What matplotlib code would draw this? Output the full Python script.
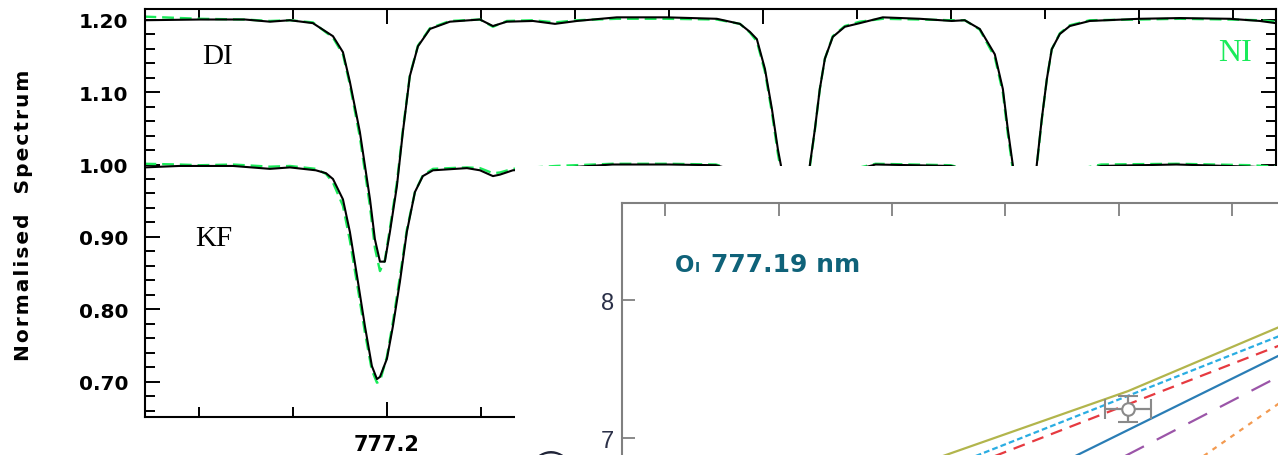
import matplotlib
matplotlib.use("Agg")
import matplotlib.pyplot as plt
from matplotlib.ticker import MultipleLocator

# ---- spectrum data (wavelength in nm, normalised flux) ----
di_wave = [777.0710, 777.1005, 777.1245, 777.1378, 777.1484, 777.1606, 777.1713, 777.1766,
           777.1803, 777.1856, 777.1910, 777.1936, 777.1963, 777.1989, 777.2016, 777.2053,
           777.2085, 777.2122, 777.2165, 777.2229, 777.2335, 777.2495, 777.2564, 777.2638,
           777.2777, 777.2894, 777.3011, 777.3223, 777.3489, 777.3755, 777.3878, 777.3931,
           777.3968, 777.4011, 777.4048, 777.4080, 777.4096, 777.4117, 777.4170, 777.4229,
           777.4250, 777.4277, 777.4303, 777.4330, 777.4372, 777.4436, 777.4516, 777.4638,
           777.4835, 777.5005, 777.5074, 777.5154, 777.5234, 777.5277, 777.5303, 777.5330,
           777.5351, 777.5394, 777.5436, 777.5457, 777.5484, 777.5511, 777.5537, 777.5580,
           777.5633, 777.5739, 777.6005, 777.6218, 777.6484, 777.6644, 777.6729]
di_obs = [0.999, 1.000, 1.000, 0.997, 0.999, 0.995, 0.977, 0.955,
          0.914, 0.845, 0.752, 0.697, 0.666, 0.666, 0.707, 0.770,
          0.845, 0.922, 0.963, 0.987, 0.997, 1.000, 0.991, 0.997,
          0.998, 0.994, 0.998, 1.003, 1.003, 1.001, 0.994, 0.983,
          0.973, 0.932, 0.877, 0.821, 0.799, 0.739, 0.600, 0.739,
          0.799, 0.849, 0.904, 0.946, 0.976, 0.990, 0.995, 1.003,
          1.001, 0.998, 0.999, 0.987, 0.952, 0.904, 0.849, 0.799,
          0.739, 0.620, 0.739, 0.799, 0.863, 0.918, 0.959, 0.980,
          0.991, 0.998, 1.001, 1.002, 1.001, 0.998, 0.995]
di_model = [1.004, 1.001, 1.000, 0.998, 0.999, 0.996, 0.975, 0.952,
            0.910, 0.838, 0.742, 0.685, 0.653, 0.668, 0.712, 0.775,
            0.848, 0.923, 0.964, 0.988, 0.998, 1.000, 0.990, 0.998,
            0.999, 0.996, 0.999, 1.001, 1.001, 1.000, 0.994, 0.982,
            0.970, 0.928, 0.872, 0.815, 0.792, 0.730, 0.590, 0.735,
            0.797, 0.848, 0.904, 0.946, 0.977, 0.991, 0.997, 1.001,
            1.000, 0.999, 0.999, 0.986, 0.948, 0.899, 0.843, 0.793,
            0.732, 0.610, 0.736, 0.797, 0.862, 0.918, 0.959, 0.981,
            0.992, 0.999, 1.000, 1.001, 1.000, 0.999, 0.997]
di_offset = 0.20

kf_wave = [777.0710, 777.0896, 777.1005, 777.1181, 777.1378, 777.1484, 777.1622, 777.1676,
           777.1713, 777.1766, 777.1803, 777.1846, 777.1883, 777.1920, 777.1947, 777.1963,
           777.2000, 777.2032, 777.2069, 777.2106, 777.2149, 777.2191, 777.2245, 777.2426,
           777.2495, 777.2564, 777.2601, 777.2670, 777.2900, 777.3200, 777.3500, 777.3750,
           777.3880, 777.3970, 777.4050, 777.4170, 777.4290, 777.4370, 777.4450, 777.4600,
           777.5000, 777.5150, 777.5240, 777.5310, 777.5390, 777.5480, 777.5550, 777.5650,
           777.5800, 777.6200, 777.6600, 777.6730]
kf_obs = [0.996, 0.998, 0.998, 0.998, 0.994, 0.996, 0.992, 0.988,
          0.980, 0.952, 0.907, 0.838, 0.777, 0.722, 0.704, 0.707,
          0.732, 0.777, 0.838, 0.907, 0.962, 0.984, 0.992, 0.995,
          0.992, 0.984, 0.986, 0.992, 0.995, 1.000, 1.000, 0.999,
          0.990, 0.960, 0.850, 0.550, 0.850, 0.960, 0.990, 1.000,
          0.998, 0.990, 0.950, 0.850, 0.580, 0.850, 0.960, 0.990,
          0.998, 1.000, 0.997, 0.995]
kf_model = [1.001, 1.000, 0.999, 1.000, 0.997, 0.998, 0.994, 0.987,
            0.975, 0.943, 0.895, 0.828, 0.768, 0.716, 0.699, 0.701,
            0.735, 0.783, 0.845, 0.910, 0.962, 0.985, 0.994, 0.996,
            0.995, 0.988, 0.989, 0.994, 0.998, 1.001, 1.001, 1.000,
            0.990, 0.955, 0.840, 0.540, 0.848, 0.961, 0.992, 1.001,
            0.999, 0.988, 0.945, 0.842, 0.570, 0.848, 0.960, 0.992,
            1.000, 1.001, 0.999, 0.997]

y_ticks = [0.70, 0.80, 0.90, 1.00, 1.10, 1.20]
y_tick_labels = ["0.70", "0.80", "0.90", "1.00", "1.10", "1.20"]
x_ticks = [777.2, 777.4, 777.6]
x_tick_labels = ["777.2", "777.4", "777.6"]

# ---- inset (O I 777.19 nm panel) ----
inset_lines = {
    "olive":  ([3.0, 5.08, 6.6], [6.74, 7.34, 7.87]),
    "cyan":   ([3.0, 6.6], [6.63, 7.80]),
    "red":    ([3.0, 6.6], [6.58, 7.73]),
    "blue":   ([4.0, 6.6], [6.62, 7.675]),
    "purple": ([4.5, 6.6], [6.634, 7.527]),
    "orange": ([5.0, 6.6], [6.442, 7.36]),
}
obs_x, obs_y = [5.08], [7.21]
obs_xerr, obs_yerr = [0.20], [0.094]

green = "#1aeb5a"
W, H = 1278, 456
fig = plt.figure(figsize=(W / 100, H / 100), dpi=100)

# main spectrum panel
ax = fig.add_axes([145 / W, (H - 418) / H, (1276 - 145) / W, (418 - 10) / H])
ax.plot(di_wave, [v + di_offset for v in di_model], color=green, lw=1.7, dashes=(5, 2.5))
ax.plot(di_wave, [v + di_offset for v in di_obs], color="black", lw=1.5)
ax.plot(kf_wave, kf_model, color=green, lw=1.7, dashes=(5, 2.5))
ax.plot(kf_wave, kf_obs, color="black", lw=1.5)
ax.set_xlim(777.0713, 777.673)
ax.set_ylim(0.6517, 1.2145)
ax.set_yticks(y_ticks, y_tick_labels, fontweight="bold", fontsize=14.5)
ax.set_xticks(x_ticks, x_tick_labels, fontweight="bold", fontsize=15)
ax.yaxis.set_minor_locator(MultipleLocator(0.02))
ax.xaxis.set_minor_locator(MultipleLocator(0.05))
ax.tick_params(which="both", direction="in", top=True, right=True, width=1.4)
ax.tick_params(which="major", length=11)
ax.tick_params(which="minor", length=7)
ax.tick_params(axis="y", pad=12)
ax.tick_params(axis="x", pad=12)
for s in ax.spines.values():
    s.set_linewidth(1.5)
ax.text(777.1101, 1.149, "DI", family="Liberation Serif", fontsize=21, ha="center", va="center")
ax.text(777.1080, 0.899, "KF", family="Liberation Serif", fontsize=21, ha="center", va="center")
ax.text(777.6510, 1.1545, "NI", family="Liberation Serif", fontsize=23, color=green,
        ha="center", va="center")
hs = "\u200a"
ylab = hs.join("Normalised") + hs + " " + hs + " " + hs + hs.join("Spectrum")
fig.text(24 / W, 1 - 215 / H, ylab, rotation=90, ha="center", va="center",
         fontsize=14.5, fontweight="bold")

# white patch of the pasted panel
patch = fig.add_axes([515 / W, 0, (W - 515) / W, (H - 166.5) / H])
patch.set_facecolor("white")
patch.set_xticks([])
patch.set_yticks([])
for s in patch.spines.values():
    s.set_visible(False)

# inset panel
ins = fig.add_axes([622 / W, 0, (W - 622) / W, (H - 204) / H])
ins.set_facecolor("white")
styles = {
    "olive":  dict(color="#b2b54c", lw=1.6),
    "cyan":   dict(color="#2aade2", lw=1.6, dashes=(2.6, 1.4)),
    "red":    dict(color="#e63a40", lw=1.6, dashes=(5.4, 3.6)),
    "blue":   dict(color="#2a7db5", lw=1.6),
    "purple": dict(color="#9b55a8", lw=1.6, dashes=(9.5, 6.5)),
    "orange": dict(color="#f39a50", lw=1.6, dashes=(2.2, 2.7)),
}
for name, (xs, ys) in inset_lines.items():
    ins.plot(xs, ys, **styles[name])
ins.errorbar(obs_x, obs_y, xerr=obs_xerr, yerr=obs_yerr, fmt="o", mfc="white", mec="#8a8a8a",
             ecolor="#8a8a8a", ms=9, mew=1.5, elinewidth=1.6, capsize=7, capthick=1.6)
ins.set_xlim(0.621, 6.401)
ins.set_ylim(6.877, 8.703)
ins.set_xticks([1, 2, 3, 4, 5, 6])
ins.set_yticks([7, 8], ["7", "8"], family="Liberation Sans", fontsize=17, color="#2b3048")
ins.tick_params(direction="in", length=9, width=1.3, color="#808080", bottom=False,
                labelbottom=False, top=True, pad=6)
for side in ["right", "bottom"]:
    ins.spines[side].set_visible(False)
for side in ["left", "top"]:
    ins.spines[side].set_color("#808080")
    ins.spines[side].set_linewidth(1.5)

teal = "#0f6279"
fig.text(675 / W, 1 - 272 / H, "O", fontsize=16.5, fontweight="bold", color=teal, va="baseline")
fig.text(695 / W, 1 - 272 / H, "I", fontsize=10, fontweight="bold", color=teal, va="baseline")
fig.text(711 / W, 1 - 272 / H, "777.19 nm", fontsize=18, fontweight="bold", color=teal, va="baseline")
# end of the panel's rotated y label, peeking above the bottom edge
fig.text(551 / W, 1 - 451 / H, ")", rotation=90, ha="center", va="center",
         fontsize=19, color="#1e2236")

fig.savefig("out.png", dpi=100)
